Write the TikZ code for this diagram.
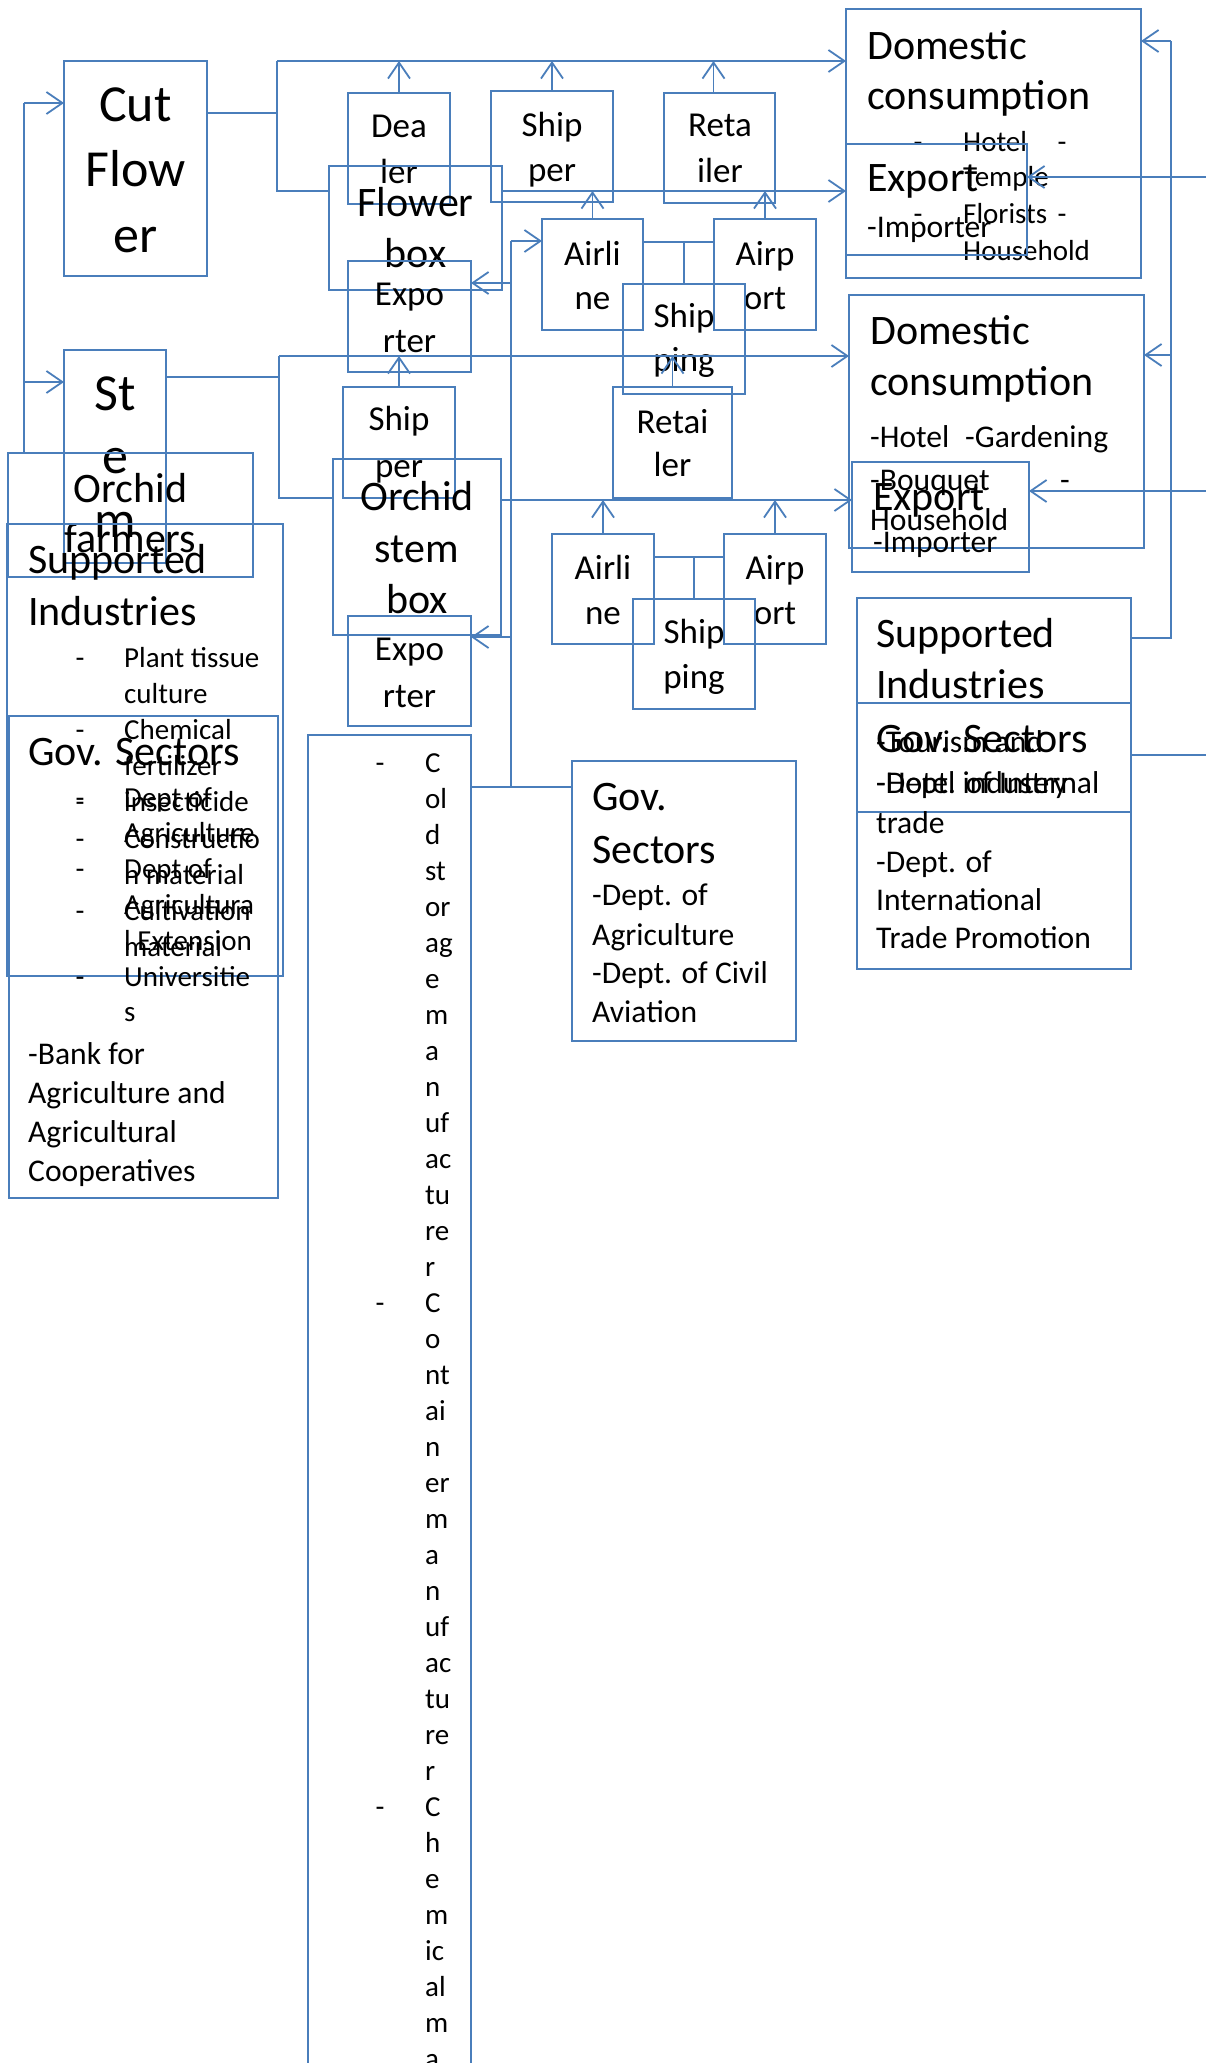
\documentclass[tikz,border=0pt]{standalone}
\usepackage{fontspec}
\setmainfont{Carlito}
\usetikzlibrary{arrows.meta}
\definecolor{lineblue}{RGB}{74,126,187}

\tikzset{
  box/.style={draw=lineblue, line width=1.6pt, inner sep=0pt, outer sep=0pt, anchor=north west},
  conn/.style={draw=lineblue, line width=1.8pt},
  arr/.style={conn, -{Straight Barb[length=16pt, width=22pt]}},
  big/.style={font=\fontsize{52}{62}\selectfont, anchor=base, inner sep=0pt},
  mid/.style={font=\fontsize{42}{50}\selectfont, anchor=base, inner sep=0pt},
  sml/.style={font=\fontsize{35}{42}\selectfont, anchor=base, inner sep=0pt},
  midl/.style={mid, anchor=base west},
  lsb/.style={font=\fontsize{31.6}{38}\selectfont, anchor=base west, inner sep=0pt},
  lst/.style={font=\fontsize{29}{35}\selectfont, anchor=base west, inner sep=0pt},
  dsh/.style={lst, anchor=base},
}

\begin{document}
\begin{tikzpicture}[x=1pt, y=-1pt]
    \useasboundingbox (0,0) rectangle (1206,2063);
    \clip (0,0) rectangle (1206,2063);

    % Left column
    \node[box, minimum width=143pt, minimum height=215pt] (cutflower) at (64,61) {};
    \node[big] (cutA) at (135.5,122) {Cut};
    \node[big] (cutB) at (135.5,187) {Flow};
    \node[big] (cutC) at (135.5,252) {er};

    \node[box, minimum width=102pt, minimum height=213pt] (stem) at (64,350) {};
    \node[big] (stemA) at (115,410) {St};
    \node[big] (stemB) at (115,473) {e};
    \node[big] (stemC) at (115,537) {m};

    \node[box, minimum width=245pt, minimum height=124pt] (farmers) at (8,453) {};
    \node[mid] (farmersA) at (130.5,502) {Orchid};
    \node[mid] (farmersB) at (130.5,552) {farmers};

    % Supported industries / Gov. sectors (left)
    \node[box, minimum width=276pt, minimum height=452pt] (supL) at (7,524) {};
    \node[midl] (supLA) at (28,573) {Supported};
    \node[midl] (supLB) at (28,625) {Industries};
    \foreach \w [count=\i from 0] in {Plant tissue, culture, Chemical, fertilizer, insecticide, Constructio, n material, Cultivation, material}
        \node[lst] (supl\i) at (124,{667+36.2*\i}) {\w};
    \foreach \i in {0,2,4,5,7}
        \node[dsh] (supldash\i) at (80,{667+36.2*\i}) {-};

    \node[box, minimum width=269pt, minimum height=482pt] (govL) at (9,716) {};
    \node[midl] (govLA) at (28,765) {Gov. Sectors};
    \foreach \w [count=\i from 0] in {Dept of, Agriculture, Dept of, Agricultura, l Extension, Universitie, s}
        \node[lst] (govl\i) at (124,{807+35.8*\i}) {\w};
    \foreach \i in {0,2,5}
        \node[dsh] (govldash\i) at (80,{807+35.8*\i}) {-};
    \foreach \w [count=\i from 0] in {-Bank for, Agriculture and, Agricultural, Cooperatives}
        \node[lsb] (bank\i) at (28,{1064+39*\i}) {\w};

    % Cut flower chain
    \node[box, minimum width=102pt, minimum height=111pt] (dealer) at (348,93) {};
    \node[sml] (dealerA) at (399,138) {Dea};
    \node[sml] (dealerB) at (399,184) {ler};
    \node[box, minimum width=122pt, minimum height=111pt] (shipper1) at (491,91) {};
    \node[sml] (shipper1A) at (552,137) {Ship};
    \node[sml] (shipper1B) at (552,182) {per};
    \node[box, minimum width=111pt, minimum height=110pt] (retailer1) at (664,93) {};
    \node[sml] (retailer1A) at (720,137) {Reta};
    \node[sml] (retailer1B) at (720,183) {iler};
    \node[box, minimum width=173pt, minimum height=124pt] (flowerbox) at (329,166) {};
    \node[mid] (flowerboxA) at (415.5,217) {Flower};
    \node[mid] (flowerboxB) at (415.5,267) {box};
    \node[box, minimum width=123pt, minimum height=111pt] (exporter1) at (348,261) {};
    \node[sml] (exporter1A) at (409.5,305) {Expo};
    \node[sml] (exporter1B) at (409.5,352) {rter};
    \node[box, minimum width=101pt, minimum height=111pt] (airline1) at (542,219) {};
    \node[sml] (airline1A) at (592.5,265) {Airli};
    \node[sml] (airline1B) at (592.5,309) {ne};
    \node[box, minimum width=102pt, minimum height=111pt] (airport1) at (714,219) {};
    \node[sml] (airport1A) at (765,265) {Airp};
    \node[sml] (airport1B) at (765,309) {ort};
    \node[box, minimum width=122pt, minimum height=110pt] (shipping1) at (623,284) {};
    \node[sml] (shipping1A) at (684,327) {Ship};
    \node[sml] (shipping1B) at (684,371) {ping};

    % Orchid stem chain
    \node[box, minimum width=119pt, minimum height=111pt] (retailer2) at (613,387) {};
    \node[sml] (retailer2A) at (672.5,433) {Retai};
    \node[sml] (retailer2B) at (672.5,476) {ler};
    \node[box, minimum width=112pt, minimum height=111pt] (shipper2) at (343,387) {};
    \node[sml] (shipper2A) at (399,430) {Ship};
    \node[sml] (shipper2B) at (399,477) {per};
    \node[box, minimum width=168pt, minimum height=176pt] (orchidbox) at (333,459) {};
    \node[mid] (orchidboxA) at (417,510) {Orchid};
    \node[mid] (orchidboxB) at (417,562) {stem};
    \node[mid] (orchidboxC) at (417,613) {box};
    \node[box, minimum width=123pt, minimum height=110pt] (exporter2) at (348,616) {};
    \node[sml] (exporter2A) at (409.5,660) {Expo};
    \node[sml] (exporter2B) at (409.5,707) {rter};
    \node[box, minimum width=102pt, minimum height=110pt] (airline2) at (552,534) {};
    \node[sml] (airline2A) at (603,579) {Airli};
    \node[sml] (airline2B) at (603,624) {ne};
    \node[box, minimum width=102pt, minimum height=110pt] (airport2) at (724,534) {};
    \node[sml] (airport2A) at (775,579) {Airp};
    \node[sml] (airport2B) at (775,624) {ort};
    \node[box, minimum width=122pt, minimum height=110pt] (shipping2) at (633,599) {};
    \node[sml] (shipping2A) at (694,643) {Ship};
    \node[sml] (shipping2B) at (694,688) {ping};

    % Supporting industries (long box)
    \node[box, minimum width=163pt, minimum height=1400pt] (coldbox) at (308,735) {};
    \foreach \w [count=\i from 0] in {C,ol,d,st,or,ag,e,m,a,n,uf,ac,tu,re,r,C,o,nt,ai,n,er,m,a,n,uf,ac,tu,re,r,C,h,e,m,ic,al,m,a}
        \node[lst] (cold\i) at (425,{772+36*\i}) {\w};
    \foreach \i in {0,15,29}
        \node[dsh] (colddash\i) at (380,{772+36*\i}) {-};

    % Gov. sectors (middle)
    \node[box, minimum width=224pt, minimum height=280pt] (govM) at (572,761) {};
    \node[midl] (govMA) at (592,810) {Gov.};
    \node[midl] (govMB) at (592,863) {Sectors};
    \node[lsb] (govM1) at (592,905) {-Dept. of};
    \node[lsb] (govM2) at (592,945) {Agriculture};
    \node[lsb] (govM3) at (592,983) {-Dept. of Civil};
    \node[lsb] (govM4) at (592,1022) {Aviation};

    % Markets (right)
    \node[box, minimum width=295pt, minimum height=269pt] (dc1) at (846,9) {};
    \node[midl] (dc1A) at (867,60) {Domestic};
    \node[midl] (dc1B) at (867,110) {consumption};
    \node[dsh] (dc1d1) at (918,152) {-};
    \node[lst] (dc1l1) at (963,152) {Hotel};
    \node[dsh] (dc1d2) at (1062,152) {-};
    \node[lst] (dc1l2) at (963,187) {Temple};
    \node[dsh] (dc1d3) at (918,223) {-};
    \node[lst] (dc1l3) at (963,223) {Florists};
    \node[dsh] (dc1d4) at (1062,223) {-};
    \node[lst] (dc1l4) at (963,260) {Household};
    \node[box, minimum width=181pt, minimum height=111pt] (export1) at (846,144) {};
    \node[midl] (export1A) at (867,192) {Export};
    \node[lsb] (export1B) at (867,237) {-Importer};

    \node[box, minimum width=295pt, minimum height=253pt] (dc2) at (849,295) {};
    \node[midl] (dc2A) at (870,344) {Domestic};
    \node[midl] (dc2B) at (870,395) {consumption};
    \node[lsb] (dc2l1) at (870,447) {-Hotel};
    \node[lsb] (dc2l2) at (965,447) {-Gardening};
    \node[lsb] (dc2l3) at (870,490) {-Bouquet};
    \node[lsb] (dc2l4) at (1060,490) {-};
    \node[lsb] (dc2l5) at (870,530) {Household};
    \node[box, minimum width=177pt, minimum height=110pt] (export2) at (852,462) {};
    \node[midl] (export2A) at (873,510) {Export};
    \node[lsb] (export2B) at (873,552) {-Importer};

    \node[box, minimum width=274pt, minimum height=214pt] (supR) at (857,598) {};
    \node[midl] (supRA) at (876,647) {Supported};
    \node[midl] (supRB) at (876,698) {Industries};
    \node[lsb] (supR1) at (876,752) {-Tourism and};
    \node[lsb] (supR2) at (876,793) {-Hotel industry};
    \node[box, minimum width=274pt, minimum height=266pt] (govR) at (857,703) {};
    \node[midl] (govRA) at (876,752) {Gov. Sectors};
    \node[lsb] (govR1) at (876,793) {-Dept. of Internal};
    \node[lsb] (govR2) at (876,833) {trade};
    \node[lsb] (govR3) at (876,872) {-Dept. of};
    \node[lsb] (govR4) at (876,910) {International};
    \node[lsb] (govR5) at (876,948) {Trade Promotion};

    % Bends
    \coordinate (lb1) at (24,103);
    \coordinate (lb2) at (24,382);
    \coordinate (cb0) at (277,113);
    \coordinate (cb1) at (277,61);
    \coordinate (cb2) at (277,191);
    \coordinate (sb0) at (279,377);
    \coordinate (sb1) at (279,356);
    \coordinate (sb2) at (279,498);
    \coordinate (r2e) at (501,500);
    \coordinate (ap1) at (684,242);
    \coordinate (ap2) at (694,557);
    \coordinate (gv0) at (511,787);
    \coordinate (gv1) at (511,241);
    \coordinate (gv2) at (511,283);
    \coordinate (gv3) at (511,637);
    \coordinate (rb0) at (1171,638);
    \coordinate (rb1) at (1171,41);
    \coordinate (rb2) at (1171,355);
    \coordinate (edge1) at (1206,177);
    \coordinate (edge2) at (1206,491);
    \coordinate (edge3) at (1206,755);

    % Farmers to products
    \draw[conn] (farmers.north -| lb1) -- (lb1);
    \draw[arr] (lb1) -- (cutflower.west |- lb1);
    \draw[arr] (lb2) -- (stem.west |- lb2);

    % Cut flower flows
    \draw[conn] (cutflower.east |- cb0) -- (cb0);
    \draw[conn] (cb1) -- (cb2) -- (flowerbox.west |- cb2);
    \draw[arr] (cb1) -- (dc1.west |- cb1);
    \draw[arr] (dealer.north) -- (dealer.north |- cb1);
    \draw[arr] (shipper1.north) -- (shipper1.north |- cb1);
    \draw[arr] (retailer1.north) ++(-6,0) -- ++(0,-32);
    \draw[arr] (flowerbox.east |- cb2) -- (export1.west |- cb2);
    \draw[arr] (airline1.north) -- (airline1.north |- cb2);
    \draw[arr] (airport1.north) -- (airport1.north |- cb2);
    \draw[conn] (airline1.east |- ap1) -- (airport1.west |- ap1);
    \draw[conn] (ap1) -- (shipping1.north -| ap1);

    % Orchid stem flows
    \draw[conn] (stem.east |- sb0) -- (sb0);
    \draw[conn] (sb1) -- (sb2) -- (orchidbox.west |- sb2);
    \draw[arr] (sb1) -- (dc2.west |- sb1);
    \draw[arr] (shipper2.north) -- (shipper2.north |- sb1);
    \draw[arr] (retailer2.north) -- (retailer2.north |- sb1);
    \draw[arr] (orchidbox.east |- r2e) -- (export2.west |- r2e);
    \draw[arr] (airline2.north) -- (airline2.north |- r2e);
    \draw[arr] (airport2.north) -- (airport2.north |- r2e);
    \draw[conn] (airline2.east |- ap2) -- (airport2.west |- ap2);
    \draw[conn] (ap2) -- (shipping2.north -| ap2);

    % Support links
    \draw[conn] (coldbox.east |- gv0) -- (govM.west |- gv0);
    \draw[conn] (gv0) -- (gv1);
    \draw[arr] (gv1) -- (airline1.west |- gv1);
    \draw[arr] (gv2) -- (exporter1.east |- gv2);
    \draw[arr] (gv3) -- (exporter2.east |- gv3);
    \draw[conn] (supR.east |- rb0) -- (rb0) -- (rb1);
    \draw[arr] (rb1) -- (dc1.east |- rb1);
    \draw[arr] (rb2) -- (dc2.east |- rb2);
    \draw[arr] (edge1) -- (export1.east |- edge1);
    \draw[arr] (edge2) -- (export2.east |- edge2);
    \draw[conn] (govR.east |- edge3) -- (edge3);
\end{tikzpicture}
\end{document}
